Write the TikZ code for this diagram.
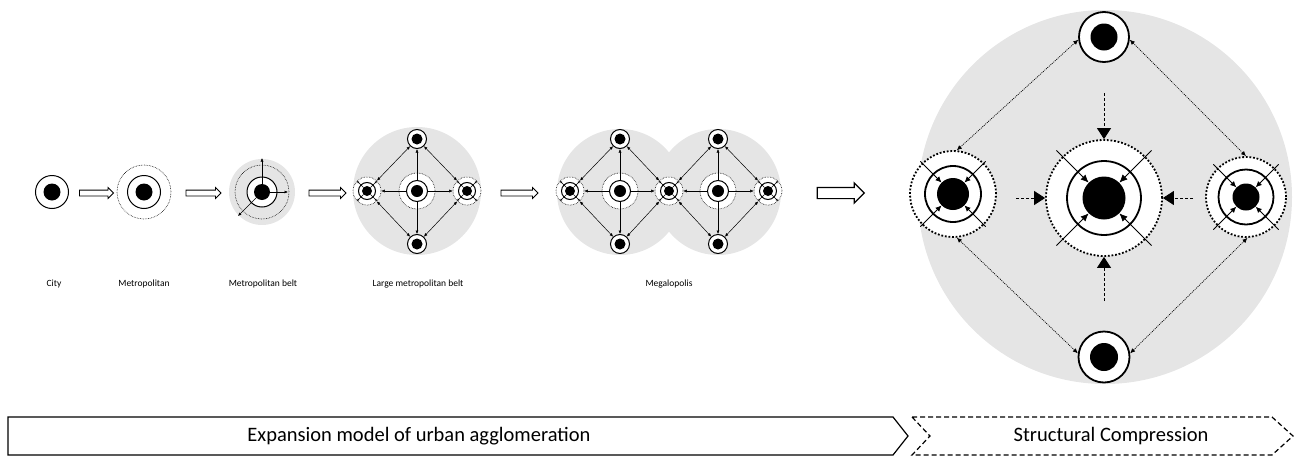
\documentclass[tikz,border=0pt]{standalone}
\usepackage{fontspec}
\setmainfont{Carlito}
\usetikzlibrary{arrows.meta,shapes.arrows}
\definecolor{bg}{HTML}{E5E5E5}
\begin{document}
\begin{tikzpicture}[x=1pt,y=-1pt,
  ring/.style={circle,draw,fill=white,line width=1pt,inner sep=0pt},
  bigring/.style={circle,draw,fill=white,line width=1.8pt,inner sep=0pt},
  blackdot/.style={circle,fill=black,inner sep=0pt},
  dring/.style={circle,draw,densely dotted,line width=0.6pt,inner sep=0pt},
  dringw/.style={circle,draw,densely dotted,fill=white,line width=0.6pt,inner sep=0pt},
  bigdring/.style={circle,draw,fill=white,line width=1.8pt,dash pattern=on 1.8pt off 1.8pt,inner sep=0pt},
  ghost/.style={circle,inner sep=0pt},
  blk/.style={single arrow,draw,fill=white,line width=0.8pt,inner sep=2.5pt,single arrow head extend=2.5pt},
  lnk/.style={line width=0.5pt,-{Latex[length=3.5pt,width=3pt]}},
  lnkb/.style={line width=0.5pt,{Latex[length=3.5pt,width=3pt]}-{Latex[length=3.5pt,width=3pt]}},
  tiny/.style={line width=0.5pt,-{Latex[length=2.5pt,width=2.2pt]}},
  dlnk/.style={line width=0.7pt,dash pattern=on 1pt off 1pt,{Latex[length=5pt,width=4.5pt]}-{Latex[length=5pt,width=4.5pt]}},
  inarr/.style={line width=0.8pt,-{Latex[length=8pt,width=7pt]}},
  push/.style={line width=0.8pt,dash pattern=on 3pt off 2pt,-{Triangle[length=11pt,width=14pt]}},
  lbl/.style={font=\fontsize{9.5}{11}\selectfont},
  barlbl/.style={font=\fontsize{20.5}{24}\selectfont}
]
\useasboundingbox (0,0) rectangle (1299,461);

% ---------- Stage 1: City
\node[ring,minimum size=33] (c1r) at (52,192) {};
\node[blackdot,minimum size=17] (c1d) at (52,192) {};
\node[lbl] (l1) at (54,284) {City};

\node[blk,minimum height=34] (a1) at (95,193) {};

% ---------- Stage 2: Metropolitan
\node[dring,minimum size=54] (m2o) at (144,192) {};
\node[ring,minimum size=33] (m2r) at (144,192) {};
\node[blackdot,minimum size=17] (m2d) at (144,192) {};
\node[lbl] (l2) at (144,284) {Metropolitan};

\node[blk,minimum height=35] (a2) at (202,193) {};

% ---------- Stage 3: Metropolitan belt
\fill[bg] (262,192) circle (33);
\node[dring,minimum size=54] (b3o) at (262,192) {};
\node[ring,minimum size=30] (b3r) at (262,192) {};
\node[blackdot,minimum size=16] (b3d) at (262,192) {};
\coordinate (b3n) at (262,158);
\coordinate (b3e) at (288,192);
\coordinate (b3sw) at (238,216);
\draw[lnk] (b3d) -- (b3n);
\draw[lnk] (b3d) -- (b3e);
\draw[lnk] (b3d) -- (b3sw);
\node[lbl] (l3) at (263,284) {Metropolitan belt};

\node[blk,minimum height=37] (a3) at (326,193) {};

% ---------- Stage 4: Large metropolitan belt
\fill[bg] (417,191) circle (64);
\node[dringw,minimum size=36] (c4o) at (417,191) {};
\node[ring,minimum size=21] (c4r) at (417,191) {};
\node[blackdot,minimum size=12] (c4d) at (417,191) {};
\node[ring,minimum size=19] (t4r) at (417,139) {};
\node[blackdot,minimum size=11] (t4d) at (417,139) {};
\node[ring,minimum size=19] (s4r) at (417,244) {};
\node[blackdot,minimum size=11] (s4d) at (417,244) {};
\node[dringw,minimum size=28] (w4o) at (367,191) {};
\node[ring,minimum size=17] (w4r) at (367,191) {};
\node[blackdot,minimum size=10] (w4d) at (367,191) {};
\node[dringw,minimum size=28] (e4o) at (467,191) {};
\node[ring,minimum size=17] (e4r) at (467,191) {};
\node[blackdot,minimum size=10] (e4d) at (467,191) {};
\draw[lnk] (c4r) -- (t4r);
\draw[lnk] (c4r) -- (s4r);
\draw[lnk] (c4r) -- (w4o);
\draw[lnk] (c4r) -- (e4o);
\draw[lnkb] (t4r) -- (w4o);
\draw[lnkb] (t4r) -- (e4o);
\draw[lnkb] (s4r) -- (w4o);
\draw[lnkb] (s4r) -- (e4o);
\foreach \a in {45,135,225,315}{
  \draw[tiny] (w4d.\a) -- (w4o.\a);
  \draw[tiny] (e4d.\a) -- (e4o.\a);
}
\node[lbl] (l4) at (418,284) {Large metropolitan belt};

\node[blk,minimum height=37] (a4) at (518,193) {};

% ---------- Stage 5: Megalopolis
\fill[bg] (620,192) circle (63);
\fill[bg] (718,192) circle (63);
\node[dringw,minimum size=36] (c5ao) at (620,191) {};
\node[ring,minimum size=21] (c5ar) at (620,191) {};
\node[blackdot,minimum size=12] (c5ad) at (620,191) {};
\node[dringw,minimum size=36] (c5bo) at (718,191) {};
\node[ring,minimum size=21] (c5br) at (718,191) {};
\node[blackdot,minimum size=12] (c5bd) at (718,191) {};
\node[ring,minimum size=19] (t5ar) at (620,139) {};
\node[blackdot,minimum size=11] (t5ad) at (620,139) {};
\node[ring,minimum size=19] (s5ar) at (620,244) {};
\node[blackdot,minimum size=11] (s5ad) at (620,244) {};
\node[ring,minimum size=19] (t5br) at (718,139) {};
\node[blackdot,minimum size=11] (t5bd) at (718,139) {};
\node[ring,minimum size=19] (s5br) at (718,244) {};
\node[blackdot,minimum size=11] (s5bd) at (718,244) {};
\node[dringw,minimum size=28] (w5o) at (570,191) {};
\node[ring,minimum size=17] (w5r) at (570,191) {};
\node[blackdot,minimum size=10] (w5d) at (570,191) {};
\node[dringw,minimum size=28] (m5o) at (669,191) {};
\node[ring,minimum size=17] (m5r) at (669,191) {};
\node[blackdot,minimum size=10] (m5d) at (669,191) {};
\node[dringw,minimum size=28] (e5o) at (768,191) {};
\node[ring,minimum size=17] (e5r) at (768,191) {};
\node[blackdot,minimum size=10] (e5d) at (768,191) {};
\draw[lnk] (c5ar) -- (t5ar);
\draw[lnk] (c5ar) -- (s5ar);
\draw[lnk] (c5ar) -- (w5o);
\draw[lnk] (c5ar) -- (m5o);
\draw[lnk] (c5br) -- (t5br);
\draw[lnk] (c5br) -- (s5br);
\draw[lnk] (c5br) -- (m5o);
\draw[lnk] (c5br) -- (e5o);
\draw[lnkb] (t5ar) -- (w5o);
\draw[lnkb] (t5ar) -- (m5o);
\draw[lnkb] (s5ar) -- (w5o);
\draw[lnkb] (s5ar) -- (m5o);
\draw[lnkb] (t5br) -- (m5o);
\draw[lnkb] (t5br) -- (e5o);
\draw[lnkb] (s5br) -- (m5o);
\draw[lnkb] (s5br) -- (e5o);
\foreach \a in {45,135,225,315}{
  \draw[tiny] (w5d.\a) -- (w5o.\a);
  \draw[tiny] (m5d.\a) -- (m5o.\a);
  \draw[tiny] (e5d.\a) -- (e5o.\a);
}
\node[lbl] (l5) at (669,284) {Megalopolis};

\node[blk,minimum height=47,inner sep=5pt,single arrow head extend=4.5pt,line width=1.2pt] (a5) at (838,193) {};

% ---------- Structural compression figure
\fill[bg] (1105,197) circle (187);
\node[bigdring,minimum size=116] (Co) at (1104,198) {};
\node[bigring,minimum size=74] (Cr) at (1104,198) {};
\node[blackdot,minimum size=43] (Cd) at (1104,198) {};
\node[ghost,minimum size=134] (Cx) at (1104,198) {};

\node[bigdring,minimum size=86] (Lo) at (953,194) {};
\node[bigring,minimum size=56] (Lr) at (953,194) {};
\node[blackdot,minimum size=32] (Ld) at (953,194) {};
\node[ghost,minimum size=92] (Lx) at (953,194) {};

\node[bigdring,minimum size=80] (Ro) at (1246,197) {};
\node[bigring,minimum size=55] (Rr) at (1246,197) {};
\node[blackdot,minimum size=27] (Rd) at (1246,197) {};
\node[ghost,minimum size=92] (Rx) at (1246,197) {};

\node[bigring,minimum size=50] (Tr) at (1104,37) {};
\node[blackdot,minimum size=27] (Td) at (1104,37) {};
\node[bigring,minimum size=51] (Br) at (1104,357) {};
\node[blackdot,minimum size=28] (Bd) at (1104,357) {};

\foreach \a in {45,135,225,315}{
  \draw[inarr] (Cx.\a) -- (Cd.\a);
  \draw[inarr,-{Latex[length=6pt,width=5.5pt]}] (Lx.\a) -- (Ld.\a);
  \draw[inarr,-{Latex[length=6pt,width=5.5pt]}] (Rx.\a) -- (Rd.\a);
}

\draw[dlnk] (Tr.186) -- (Lo.85);
\draw[dlnk] (Tr.-6) -- (Ro.90);
\draw[dlnk] (Br.172) -- (Lo.-85);
\draw[dlnk] (Br.8) -- (Ro.-88);

\coordinate (pn) at (1104,93);
\coordinate (ps) at (1104,301);
\coordinate (pw) at (1016,198);
\coordinate (pe) at (1193,198);
\draw[push] (pn) -- (Co.north);
\draw[push] (ps) -- (Co.south);
\draw[push] (pw) -- (Co.west);
\draw[push] (pe) -- (Co.east);

% ---------- Bottom bars
\draw[line width=1.2pt] (8,417) -- (893,417) -- (908,436) -- (893,455) -- (8,455) -- cycle;
\node[barlbl] (exp) at (419,436) {Expansion model of urban agglomeration};
\draw[line width=1.2pt,dash pattern=on 5pt off 3pt] (912,417) -- (1272,417) -- (1293,436) -- (1272,455) -- (912,455) -- (930,436) -- cycle;
\node[barlbl] (cmp) at (1111,436) {Structural Compression};
\end{tikzpicture}
\end{document}
